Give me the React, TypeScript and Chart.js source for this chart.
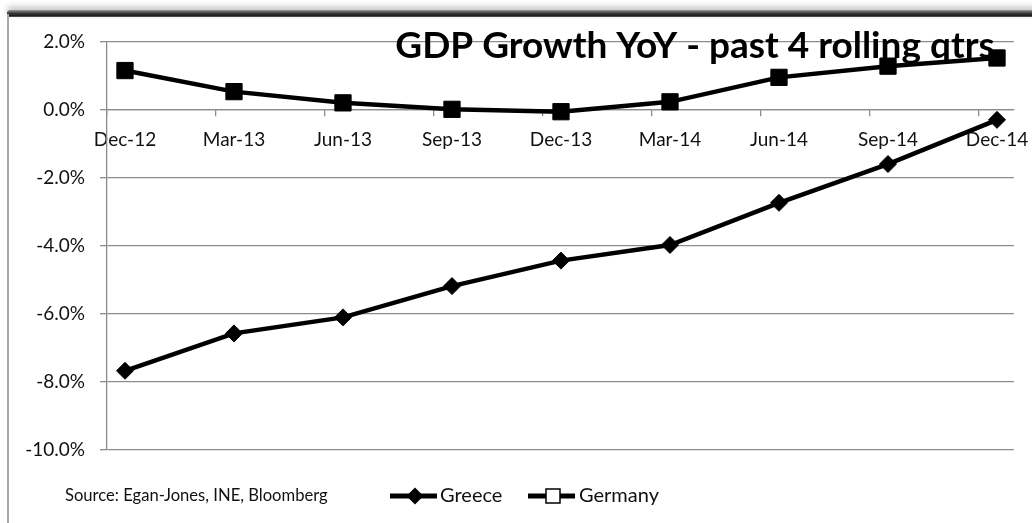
import React, { useEffect, useRef } from "react";
import { Chart, registerables } from "chart.js";

Chart.register(...registerables);

const categories = ["Dec-12", "Mar-13", "Jun-13", "Sep-13", "Dec-13", "Mar-14", "Jun-14", "Sep-14", "Dec-14"];
const greece = [-7.67, -6.57, -6.1, -5.18, -4.43, -3.97, -2.73, -1.59, -0.29];
const germany = [1.16, 0.54, 0.21, 0.02, -0.05, 0.24, 0.96, 1.29, 1.53];
const yTicks = [-10, -8, -6, -4, -2, 0, 2];
const titleText = "GDP Growth YoY - past 4 rolling qtrs";
const sourceText = "Source: Egan-Jones, INE, Bloomberg";

const FONT = "Lato, 'Noto Sans', sans-serif";
const GRID = "#8c8c8c";

const overlayPlugin = {
  id: "overlay",
  beforeDatasetsDraw(chart: any) {
    const ctx = chart.ctx;
    ctx.save();
    ctx.fillStyle = "#000";
    ctx.font = `bold 37px ${FONT}`;
    ctx.textAlign = "center";
    ctx.textBaseline = "alphabetic";
    ctx.fillText(titleText, 695, 58);
    ctx.restore();
  },
  afterDraw(chart: any) {
    const ctx = chart.ctx;
    ctx.save();
    const ly = 496;
    ctx.fillStyle = "#111";
    ctx.textBaseline = "middle";
    ctx.textAlign = "left";
    ctx.font = `16.6px ${FONT}`;
    ctx.fillText(sourceText, 65, ly);

    // Greece legend
    ctx.strokeStyle = "#000";
    ctx.lineWidth = 5;
    ctx.beginPath();
    ctx.moveTo(390, ly);
    ctx.lineTo(437, ly);
    ctx.stroke();
    ctx.fillStyle = "#000";
    ctx.beginPath();
    ctx.moveTo(415, ly - 8.5);
    ctx.lineTo(423.5, ly);
    ctx.lineTo(415, ly + 8.5);
    ctx.lineTo(406.5, ly);
    ctx.closePath();
    ctx.fill();
    ctx.font = `20px ${FONT}`;
    ctx.fillStyle = "#111";
    ctx.fillText("Greece", 440, ly);

    // Germany legend
    ctx.strokeStyle = "#000";
    ctx.lineWidth = 5;
    ctx.beginPath();
    ctx.moveTo(528, ly);
    ctx.lineTo(575, ly);
    ctx.stroke();
    ctx.fillStyle = "#fff";
    ctx.fillRect(546, ly - 7, 14, 14);
    ctx.lineWidth = 1.5;
    ctx.strokeRect(546, ly - 7, 14, 14);
    ctx.fillStyle = "#111";
    ctx.fillText("Germany", 579, ly);
    ctx.restore();
  },
};

export default function App() {
  const ref = useRef<HTMLCanvasElement | null>(null);

  useEffect(() => {
    if (!ref.current) return;
    const chart = new Chart(ref.current, {
      type: "line",
      data: {
        datasets: [
          {
            label: "Greece",
            data: greece.map((v, i) => ({ x: i, y: v })),
            borderColor: "#000",
            backgroundColor: "#000",
            borderWidth: 4.5,
            pointStyle: "rectRot",
            pointRadius: 8.5,
            pointBorderWidth: 1,
            pointBorderColor: "#000",
            pointBackgroundColor: "#000",
            tension: 0,
          },
          {
            label: "Germany",
            data: germany.map((v, i) => ({ x: i, y: v })),
            borderColor: "#000",
            backgroundColor: "#000",
            borderWidth: 4.5,
            pointStyle: "rect",
            pointRadius: 11.5,
            pointBorderWidth: 1,
            pointBorderColor: "#000",
            pointBackgroundColor: "#000",
            tension: 0,
          },
        ],
      },
      options: {
        animation: false,
        responsive: false,
        devicePixelRatio: 1,
        layout: { padding: { left: 0, top: 42, right: 18, bottom: 73 } },
        plugins: {
          legend: { display: false },
          title: { display: false },
          tooltip: { enabled: false },
        },
        scales: {
          x: {
            type: "linear",
            position: { y: 0 } as any,
            min: -0.165,
            max: 8.156,
            afterBuildTicks: (scale: any) => {
              scale.ticks = categories.map((_, i) => ({ value: i - 0.165 }));
            },
            ticks: {
              callback: (_v: any, index: number) => categories[index],
              labelOffset: 18,
              padding: 12,
              color: "#111",
              font: { family: FONT, size: 19 },
              maxRotation: 0,
              autoSkip: false,
            },
            grid: {
              drawOnChartArea: false,
              drawTicks: true,
              tickLength: 6,
              color: GRID,
              lineWidth: 1.3,
            },
            border: { display: true, color: GRID, width: 1.3 },
          },
          y: {
            type: "linear",
            min: -10,
            max: 2,
            afterBuildTicks: (scale: any) => {
              scale.ticks = yTicks.map((v) => ({ value: v }));
            },
            afterFit: (scale: any) => {
              scale.width = 107;
            },
            ticks: {
              callback: (v: any) => Number(v).toFixed(1) + "%",
              padding: 15,
              color: "#111",
              font: { family: FONT, size: 19 },
            },
            grid: {
              color: GRID,
              lineWidth: 1.3,
              tickLength: 7,
            },
            border: { display: true, color: GRID, width: 1.3 },
          },
        },
      },
      plugins: [overlayPlugin],
    });
    return () => chart.destroy();
  }, []);

  return (
    <div style={{ position: "absolute", left: 0, top: 0, width: 1032, height: 523, background: "#fff", overflow: "hidden" }}>
      <div
        style={{
          position: "absolute",
          left: 7,
          top: 10,
          width: 1040,
          height: 7,
          background: "linear-gradient(#9a9a9a, #3a3a3a 45%, #1e1e1e 80%, #606060)",
          borderTopLeftRadius: 3,
          boxShadow: "0 -3px 6px rgba(0,0,0,0.25)",
        }}
      />
      <div style={{ position: "absolute", left: 7, top: 14, width: 2, height: 520, background: "#a8a8a8" }} />
      <canvas ref={ref} width={1032} height={523} style={{ position: "absolute", left: 0, top: 0, width: 1032, height: 523 }} />
    </div>
  );
}
